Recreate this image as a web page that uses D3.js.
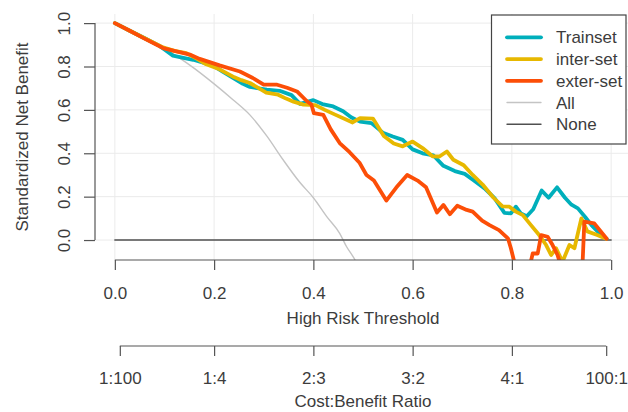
<!DOCTYPE html>
<html>
<head>
<meta charset="utf-8">
<script src="https://cdn.jsdelivr.net/npm/d3@7"></script>
<style>
  html, body { margin: 0; padding: 0; background: #fff; }
  svg { display: block; font-family: "Liberation Sans", Arial, sans-serif; }
</style>
</head>
<body>
<div id="chart"></div>
<script>
// decision curves: [threshold, standardized net benefit]
const trainset = [
  [0, 1.0], [0.03, 0.965], [0.06, 0.93], [0.09, 0.895], [0.1, 0.878], [0.117, 0.85],
  [0.138, 0.84], [0.158, 0.831], [0.178, 0.818], [0.198, 0.804], [0.218, 0.775],
  [0.238, 0.748], [0.258, 0.72], [0.272, 0.706], [0.306, 0.693], [0.332, 0.688],
  [0.356, 0.668], [0.373, 0.628], [0.4, 0.645], [0.418, 0.627], [0.44, 0.616],
  [0.46, 0.594], [0.476, 0.566], [0.494, 0.546], [0.517, 0.539], [0.54, 0.495],
  [0.56, 0.477], [0.58, 0.462], [0.6, 0.418], [0.62, 0.4], [0.642, 0.39],
  [0.662, 0.342], [0.685, 0.318], [0.705, 0.305], [0.722, 0.277], [0.745, 0.238],
  [0.765, 0.193], [0.785, 0.125], [0.798, 0.123], [0.808, 0.154], [0.818, 0.123],
  [0.83, 0.11], [0.843, 0.142], [0.86, 0.228], [0.874, 0.195], [0.891, 0.243],
  [0.907, 0.195], [0.92, 0.163], [0.933, 0.146], [0.948, 0.105], [0.96, 0.07],
  [0.976, 0.031], [0.991, 0.006]
];
const interset = [
  [0, 1.0], [0.03, 0.965], [0.06, 0.93], [0.097, 0.888], [0.12, 0.872], [0.144, 0.862],
  [0.165, 0.836], [0.184, 0.81], [0.211, 0.787], [0.241, 0.75], [0.255, 0.737],
  [0.272, 0.724], [0.305, 0.68], [0.329, 0.67], [0.345, 0.652], [0.36, 0.638],
  [0.38, 0.624], [0.404, 0.622], [0.423, 0.6], [0.445, 0.577], [0.479, 0.542],
  [0.494, 0.562], [0.52, 0.56], [0.542, 0.48], [0.562, 0.445], [0.58, 0.432],
  [0.6, 0.454], [0.62, 0.424], [0.64, 0.386], [0.654, 0.385], [0.669, 0.408],
  [0.682, 0.37], [0.703, 0.345], [0.721, 0.3], [0.741, 0.256], [0.763, 0.195],
  [0.781, 0.155], [0.795, 0.154], [0.808, 0.131], [0.822, 0.115], [0.838, 0.07],
  [0.855, 0.023], [0.869, -0.023], [0.879, -0.069], [0.889, -0.038], [0.902, -0.1],
  [0.916, -0.023], [0.926, -0.038], [0.94, 0.1], [0.952, 0.04], [0.972, 0.023],
  [0.99, 0.006]
];
const exterset = [
  [0, 1.0], [0.03, 0.965], [0.057, 0.932], [0.097, 0.885], [0.124, 0.87], [0.151, 0.855],
  [0.171, 0.835], [0.211, 0.805], [0.252, 0.777], [0.278, 0.747], [0.3, 0.716],
  [0.327, 0.716], [0.347, 0.702], [0.367, 0.685], [0.386, 0.642], [0.396, 0.625],
  [0.401, 0.585], [0.42, 0.577], [0.435, 0.51], [0.453, 0.447], [0.473, 0.405],
  [0.493, 0.356], [0.507, 0.3], [0.522, 0.274], [0.547, 0.182], [0.567, 0.242],
  [0.589, 0.3], [0.61, 0.274], [0.627, 0.243], [0.649, 0.127], [0.662, 0.162],
  [0.675, 0.119], [0.69, 0.158], [0.709, 0.139], [0.721, 0.131], [0.74, 0.09],
  [0.755, 0.069], [0.774, 0.046], [0.792, 0.008], [0.798, -0.038], [0.808, -0.13],
  [0.835, -0.13], [0.842, -0.062], [0.852, -0.062], [0.859, 0.023], [0.872, 0.015],
  [0.882, -0.023], [0.892, -0.069], [0.9, -0.13], [0.942, -0.13], [0.946, 0.085],
  [0.966, 0.077], [0.991, 0.006]
];
const treatAll = [
  [0, 1.0], [0.05, 0.948], [0.1, 0.885], [0.13, 0.84], [0.158, 0.795], [0.2, 0.72],
  [0.238, 0.647], [0.272, 0.577], [0.306, 0.48], [0.339, 0.37], [0.373, 0.265],
  [0.4, 0.195], [0.427, 0.108], [0.453, 0.031], [0.467, -0.031], [0.484, -0.092],
  [0.49, -0.12]
];
const treatNone = [[0, 0], [1, 0]];

const seriesNames = ["Trainset", "inter-set", "exter-set", "All", "None"];
const xTicks = [0, 0.2, 0.4, 0.6, 0.8, 1.0];
const yTicks = [0, 0.2, 0.4, 0.6, 0.8, 1.0];
const costTicks = [0.01, 0.2, 0.4, 0.6, 0.8, 0.99];
const costLabels = ["1:100", "1:4", "2:3", "3:2", "4:1", "100:1"];

const width = 628, height = 412;
const plot = { left: 95, right: 631, top: 14, bottom: 260 };
const fontSize = 17;
const textColor = "#3c3c3c";
const axisColor = "#555";

const styles = [
  { data: trainset, color: "#00AFBB", w: 3.8 },
  { data: interset, color: "#E7B800", w: 3.8 },
  { data: exterset, color: "#FC4E07", w: 3.8 },
  { data: treatAll, color: "#c4c4c4", w: 1.4 },
  { data: treatNone, color: "#505050", w: 1.4 }
];

// R style 4% padding
const x = d3.scaleLinear().domain([-0.04, 1.04]).range([plot.left, plot.right]);
const y = d3.scaleLinear().domain([-0.092, 1.042]).range([plot.bottom, plot.top]);

const svg = d3.select("#chart").append("svg")
  .attr("width", width).attr("height", height);

svg.append("defs").append("clipPath").attr("id", "clip")
  .append("rect")
  .attr("x", plot.left).attr("y", plot.top)
  .attr("width", plot.right - plot.left).attr("height", plot.bottom - plot.top);

// grid
const grid = svg.append("g").attr("stroke", "#ebebeb").attr("stroke-width", 1);
grid.selectAll(".gx").data(xTicks).enter().append("line")
  .attr("x1", d => x(d)).attr("x2", d => x(d))
  .attr("y1", plot.top).attr("y2", plot.bottom);
grid.selectAll(".gy").data(yTicks).enter().append("line")
  .attr("x1", plot.left).attr("x2", plot.right)
  .attr("y1", d => y(d)).attr("y2", d => y(d));

// curves
const line = d3.line().x(d => x(d[0])).y(d => y(d[1]));
const curves = svg.append("g").attr("clip-path", "url(#clip)");
[3, 4, 0, 1, 2].forEach(i => {
  const s = styles[i];
  curves.append("path")
    .datum(s.data)
    .attr("fill", "none")
    .attr("stroke", s.color)
    .attr("stroke-width", s.w)
    .attr("stroke-linejoin", "round")
    .attr("stroke-linecap", "round")
    .attr("d", i === 3 ? line.curve(d3.curveMonotoneX)(s.data) : line.curve(d3.curveLinear)(s.data));
});

function styleAxis(g, lo, hi, horizontal) {
  g.select(".domain").remove();
  g.selectAll(".tick line").attr("stroke", axisColor).attr("stroke-width", 1.2);
  g.selectAll(".tick text")
    .attr("fill", textColor)
    .style("font-size", fontSize + "px");
  const l = g.append("line").attr("stroke", axisColor).attr("stroke-width", 1.2);
  if (horizontal) l.attr("x1", x(lo)).attr("x2", x(hi)).attr("y1", 0).attr("y2", 0);
  else l.attr("y1", y(lo)).attr("y2", y(hi)).attr("x1", 0).attr("x2", 0);
}

// x axis
const gx = svg.append("g").attr("transform", `translate(0,${plot.bottom})`)
  .call(d3.axisBottom(x).tickValues(xTicks).tickFormat(d3.format(".1f")).tickSize(10));
styleAxis(gx, 0, 1, true);
gx.selectAll(".tick text").attr("y", 33).attr("dy", "0.35em");
svg.append("text")
  .attr("x", (plot.left + plot.right) / 2).attr("y", 318.5).attr("dy", "0.35em")
  .attr("text-anchor", "middle").attr("fill", textColor).style("font-size", fontSize + "px")
  .text("High Risk Threshold");

// cost:benefit axis
const gc = svg.append("g").attr("transform", "translate(0,346)")
  .call(d3.axisBottom(x).tickValues(costTicks).tickFormat((d, i) => costLabels[i]).tickSize(10));
styleAxis(gc, costTicks[0], costTicks[costTicks.length - 1], true);
gc.selectAll(".tick text").attr("y", 32.5).attr("dy", "0.35em");
svg.append("text")
  .attr("x", (plot.left + plot.right) / 2).attr("y", 401.5).attr("dy", "0.35em")
  .attr("text-anchor", "middle").attr("fill", textColor).style("font-size", fontSize + "px")
  .text("Cost:Benefit Ratio");

// y axis
const gy = svg.append("g").attr("transform", `translate(${plot.left},0)`)
  .call(d3.axisLeft(y).tickValues(yTicks).tickFormat(d3.format(".1f")).tickSize(11));
styleAxis(gy, 0, 1, false);
gy.selectAll(".tick text")
  .attr("x", null).attr("dy", null)
  .attr("text-anchor", "middle")
  .attr("transform", "translate(-31,0) rotate(-90)")
  .attr("dy", "0.35em");
svg.append("text")
  .attr("transform", `translate(22,${(plot.top + plot.bottom) / 2}) rotate(-90)`)
  .attr("dy", "0.35em")
  .attr("text-anchor", "middle").attr("fill", textColor).style("font-size", fontSize + "px")
  .text("Standardized Net Benefit");

// legend
const legend = svg.append("g");
legend.append("rect")
  .attr("x", 491.5).attr("y", 15).attr("width", 134.5).attr("height", 129)
  .attr("fill", "#fff").attr("stroke", "#444").attr("stroke-width", 1.2);
const rows = legend.selectAll(".row").data(seriesNames).enter().append("g")
  .attr("transform", (d, i) => `translate(0,${37.3 + i * 21.75})`);
rows.append("line")
  .attr("x1", 507).attr("x2", 541)
  .attr("stroke", (d, i) => styles[i].color)
  .attr("stroke-width", (d, i) => styles[i].w)
  .attr("stroke-linecap", "round");
rows.append("text")
  .attr("x", 556).attr("dy", "0.35em")
  .attr("fill", textColor).style("font-size", fontSize + "px")
  .text(d => d);
</script>
</body>
</html>
